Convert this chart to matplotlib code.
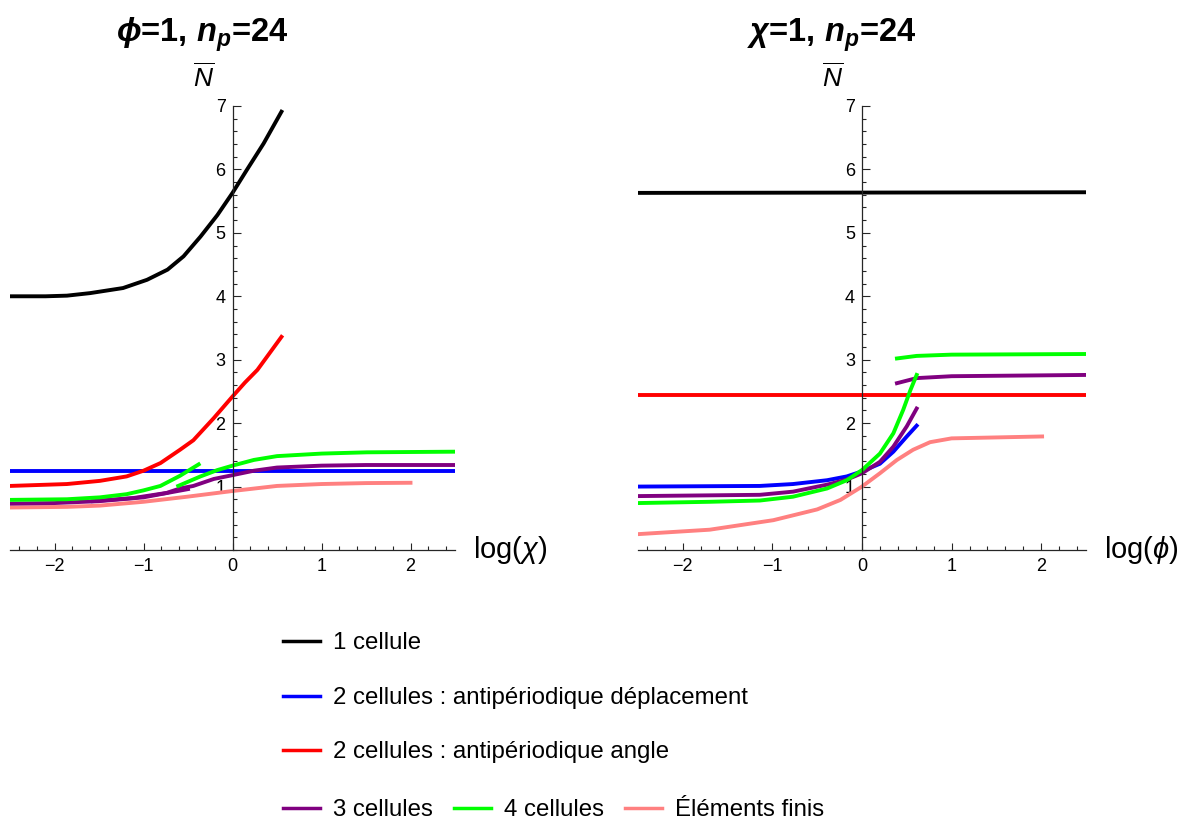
import numpy as np
import matplotlib
matplotlib.use("Agg")
import matplotlib.pyplot as plt
from matplotlib.lines import Line2D
from matplotlib.ticker import MultipleLocator

plt.rcParams['font.family'] = ['Liberation Sans', 'DejaVu Sans']
plt.rcParams['mathtext.fontset'] = 'custom'
plt.rcParams['mathtext.rm'] = 'Liberation Sans'
plt.rcParams['mathtext.it'] = 'Liberation Sans:italic'
plt.rcParams['mathtext.bf'] = 'Liberation Sans:italic:bold'

# ---- left panel : phi = 1, x = log(chi) ----
l_black_x = [-2.5, -2.1, -1.86, -1.6, -1.23, -0.96, -0.73, -0.55, -0.36, -0.17, 0, 0.16, 0.35, 0.55]
l_black_y = [4.0, 4.0, 4.01, 4.05, 4.13, 4.26, 4.42, 4.63, 4.94, 5.28, 5.63, 5.99, 6.41, 6.91]
l_blue_x = [-2.5, 2.5]
l_blue_y = [1.25, 1.25]
l_red_x = [-2.5, -1.86, -1.49, -1.19, -1.0, -0.81, -0.59, -0.44, -0.21, 0, 0.14, 0.28, 0.55]
l_red_y = [1.01, 1.04, 1.09, 1.16, 1.25, 1.37, 1.58, 1.73, 2.08, 2.42, 2.64, 2.84, 3.36]
l_purple1_x = [-2.5, -2, -1.5, -1, -0.5]
l_purple1_y = [0.73, 0.74, 0.77, 0.83, 0.96]
l_purple2_x = [-1.57, -1.11, -0.74, -0.59, -0.44, -0.21, 0, 0.24, 0.5, 1, 1.5, 2.5]
l_purple2_y = [0.77, 0.82, 0.9, 0.97, 1.01, 1.12, 1.18, 1.25, 1.3, 1.33, 1.34, 1.34]
l_green1_x = [-2.5, -1.86, -1.49, -1.19, -1.0, -0.81, -0.59, -0.38]
l_green1_y = [0.79, 0.8, 0.83, 0.88, 0.94, 1.01, 1.17, 1.35]
l_green2_x = [-0.61, -0.36, -0.17, 0, 0.24, 0.5, 1, 1.51, 2.5]
l_green2_y = [1.01, 1.16, 1.26, 1.33, 1.42, 1.48, 1.52, 1.54, 1.55]
l_pink_x = [-2.5, -1.86, -1.49, -1.0, -0.51, 0, 0.5, 1, 1.5, 2.0]
l_pink_y = [0.67, 0.68, 0.7, 0.76, 0.84, 0.93, 1.01, 1.04, 1.055, 1.06]

# ---- right panel : chi = 1, x = log(phi) ----
r_black_x = [-2.5, 2.5]
r_black_y = [5.63, 5.64]
r_red_x = [-2.5, 2.5]
r_red_y = [2.44, 2.44]
r_blue_x = [-2.5, -1.14, -0.77, -0.39, -0.17, 0, 0.2, 0.35, 0.5, 0.61]
r_blue_y = [1.0, 1.01, 1.04, 1.1, 1.16, 1.24, 1.36, 1.55, 1.79, 1.96]
r_purple1_x = [-2.5, -1.14, -0.77, -0.39, -0.17, 0, 0.2, 0.35, 0.5, 0.61]
r_purple1_y = [0.85, 0.87, 0.92, 1.03, 1.11, 1.21, 1.39, 1.63, 1.95, 2.23]
r_purple2_x = [0.39, 0.61, 1.0, 2.5]
r_purple2_y = [2.63, 2.71, 2.74, 2.76]
r_green1_x = [-2.5, -1.7, -1.14, -0.77, -0.39, -0.17, 0, 0.2, 0.35, 0.46, 0.54, 0.61]
r_green1_y = [0.74, 0.76, 0.78, 0.84, 0.97, 1.1, 1.26, 1.52, 1.84, 2.21, 2.52, 2.76]
r_green2_x = [0.39, 0.61, 1.0, 2.5]
r_green2_y = [3.02, 3.06, 3.08, 3.09]
r_pink_x = [-2.5, -1.7, -0.99, -0.5, -0.24, 0, 0.2, 0.39, 0.57, 0.76, 1.0, 2.01]
r_pink_y = [0.25, 0.32, 0.47, 0.64, 0.79, 1.0, 1.21, 1.42, 1.58, 1.7, 1.76, 1.79]

c_black = 'black'
c_blue = '#0000ff'
c_red = '#ff0000'
c_purple = '#800080'
c_green = '#00ff00'
c_pink = '#ff8080'

labels = ['1 cellule', '2 cellules : antipériodique déplacement',
          '2 cellules : antipériodique angle', '3 cellules', '4 cellules',
          'Éléments finis']

lw = 2.8

fig = plt.figure(figsize=(11.9, 8.25), dpi=100)
ax1 = fig.add_axes([10 / 1190, 275 / 825, 445 / 1190, 444 / 825])
ax2 = fig.add_axes([638 / 1190, 275 / 825, 448 / 1190, 444 / 825])


def style_axes(ax, xlab, title):
    ax.set_xlim(-2.5, 2.5)
    ax.set_ylim(0, 7)
    for s in ['top', 'right']:
        ax.spines[s].set_visible(False)
    ax.spines['left'].set_position(('data', 0))
    ax.spines['bottom'].set_position(('data', 0))
    ax.spines['left'].set_color('0.15')
    ax.spines['bottom'].set_color('0.15')
    ax.spines['left'].set_linewidth(0.9)
    ax.spines['bottom'].set_linewidth(0.9)
    ax.set_xticks([-2, -1, 0, 1, 2])
    ax.set_yticks([1, 2, 3, 4, 5, 6, 7])
    ax.xaxis.set_minor_locator(MultipleLocator(0.2))
    ax.yaxis.set_minor_locator(MultipleLocator(0.2))
    ax.tick_params(which='both', direction='in', color='0.15', width=0.8)
    ax.tick_params(which='major', length=5, labelsize=13)
    ax.tick_params(axis='y', which='major', length=6, pad=5)
    ax.tick_params(which='minor', length=3)
    ax.tick_params(axis='x', which='major', pad=6)
    ax.text(1.04, 0, xlab, transform=ax.transAxes, ha='left', va='center', fontsize=21)
    ax.text(0.435, 1.065, r'$\overline{N}$', transform=ax.transAxes, ha='center', va='center', fontsize=19)
    ax.text(0.432, 1.16, title, transform=ax.transAxes, ha='center', va='center',
            fontsize=23.5, fontweight='bold')


ax1.plot(l_black_x, l_black_y, color=c_black, lw=lw)
ax1.plot(l_blue_x, l_blue_y, color=c_blue, lw=lw)
ax1.plot(l_red_x, l_red_y, color=c_red, lw=lw)
ax1.plot(l_pink_x, l_pink_y, color=c_pink, lw=lw)
ax1.plot(l_purple1_x, l_purple1_y, color=c_purple, lw=lw)
ax1.plot(l_purple2_x, l_purple2_y, color=c_purple, lw=lw)
ax1.plot(l_green1_x, l_green1_y, color=c_green, lw=lw)
ax1.plot(l_green2_x, l_green2_y, color=c_green, lw=lw)
style_axes(ax1, r'log($\chi$)', r'$\mathbf{\phi}$=1, $\mathbf{n_p}$=24')

ax2.plot(r_black_x, r_black_y, color=c_black, lw=lw)
ax2.plot(r_red_x, r_red_y, color=c_red, lw=lw)
ax2.plot(r_pink_x, r_pink_y, color=c_pink, lw=lw)
ax2.plot(r_blue_x, r_blue_y, color=c_blue, lw=lw)
ax2.plot(r_purple1_x, r_purple1_y, color=c_purple, lw=lw)
ax2.plot(r_purple2_x, r_purple2_y, color=c_purple, lw=lw)
ax2.plot(r_green1_x, r_green1_y, color=c_green, lw=lw)
ax2.plot(r_green2_x, r_green2_y, color=c_green, lw=lw)
style_axes(ax2, r'log($\phi$)', r'$\mathbf{\chi}$=1, $\mathbf{n_p}$=24')

leg_fs = 17.3
leg_kw = dict(frameon=False, fontsize=leg_fs, handlelength=1.55, handletextpad=0.55,
              borderpad=0, borderaxespad=0, loc='center left')
rows = [([c_black], [labels[0]], 643),
        ([c_blue], [labels[1]], 698),
        ([c_red], [labels[2]], 752),
        ([c_purple, c_green, c_pink], labels[3:], 810)]
for cols, labs, ypix in rows:
    handles = [Line2D([], [], color=c, lw=2.5) for c in cols]
    fig.legend(handles, labs, ncol=len(labs), columnspacing=0.85,
               bbox_to_anchor=(283 / 1190, 1 - ypix / 825), **leg_kw)

fig.savefig('out.png', dpi=100)
